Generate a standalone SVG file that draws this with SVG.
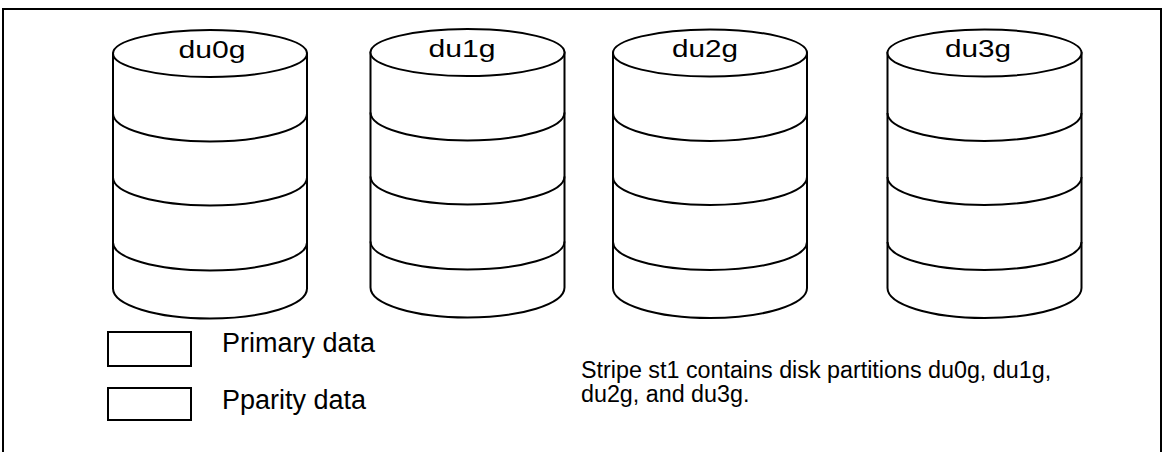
<svg xmlns="http://www.w3.org/2000/svg" width="1163" height="452" viewBox="0 0 1163 452">
  <defs>
    <style>
      .ln { fill: none; stroke: #000; stroke-width: 2; }
      .body { fill: #fff; stroke: #000; stroke-width: 2; }
      .lbl { font-family: "Liberation Sans", Arial, sans-serif; font-size: 23px; fill: #000; text-anchor: middle; }
      .legend { font-family: "Liberation Sans", Arial, sans-serif; font-size: 27px; fill: #000; }
      .note { font-family: "Liberation Sans", Arial, sans-serif; font-size: 23.3px; fill: #000; }
    </style>
    <!-- one disk: local origin at the centre of the top ellipse -->
    <g id="disk">
      <path class="body" d="M -97 0 L -97 235 A 97 30 0 0 0 97 235 L 97 0 Z"/>
      <ellipse class="body" cx="0" cy="0" rx="97" ry="23.5"/>
      <path class="ln" d="M -97 60 A 97 28 0 0 0 97 60"/>
      <path class="ln" d="M -97 124 A 97 28 0 0 0 97 124"/>
      <path class="ln" d="M -97 189 A 97 28 0 0 0 97 189"/>
    </g>
  </defs>

  <rect width="1163" height="452" fill="#fff"/>
  <!-- outer frame (open at the bottom edge of the page) -->
  <path class="ln" d="M 3 470 L 3 9 L 1161 9 L 1161 470"/>

  <g id="disk-du0g">
    <use href="#disk" x="210" y="53.5"/>
    <text class="lbl" x="212" y="58" textLength="67" lengthAdjust="spacingAndGlyphs">du0g</text>
  </g>
  <g id="disk-du1g">
    <use href="#disk" x="467.5" y="52.5"/>
    <text class="lbl" x="462" y="57" textLength="67" lengthAdjust="spacingAndGlyphs">du1g</text>
  </g>
  <g id="disk-du2g">
    <use href="#disk" x="710" y="53"/>
    <text class="lbl" x="705" y="57" textLength="66" lengthAdjust="spacingAndGlyphs">du2g</text>
  </g>
  <g id="disk-du3g">
    <use href="#disk" x="984.5" y="53"/>
    <text class="lbl" x="978" y="57" textLength="66" lengthAdjust="spacingAndGlyphs">du3g</text>
  </g>

  <g id="legend-primary">
    <rect class="body" x="108" y="332" width="83" height="34"/>
    <text class="legend" x="222" y="352">Primary data</text>
  </g>
  <g id="legend-parity">
    <rect class="body" x="108" y="388" width="83" height="32"/>
    <text class="legend" x="222" y="409">Pparity data</text>
  </g>

  <g id="note">
    <text class="note" x="581" y="378">Stripe st1 contains disk partitions du0g, du1g,</text>
    <text class="note" x="581" y="402">du2g, and du3g.</text>
  </g>
</svg>
